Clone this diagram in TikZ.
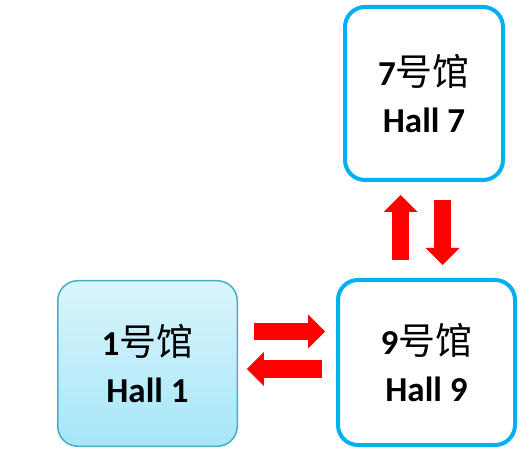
\documentclass[tikz,border=0pt]{standalone}
\usepackage{fontspec}
\setmainfont{Carlito}
\newfontfamily\cjk{Noto Sans CJK SC}
\usetikzlibrary{arrows.meta}
\definecolor{hallblue}{HTML}{00B0F0}
\definecolor{hallteal}{HTML}{4BACC6}
\definecolor{gradtop}{HTML}{DAF5FC}
\definecolor{gradbot}{HTML}{A6E6F8}
\definecolor{arrred}{HTML}{FF0000}
\newcommand{\hz}[1]{{\cjk\mdseries\fontsize{37}{47}\selectfont #1}}
\begin{document}
\begin{tikzpicture}[x=1pt,y=1pt,
  hallbox/.style={rounded corners=20pt,align=center,inner sep=0pt,
    font=\fontsize{35}{47}\selectfont\bfseries},
  bluebox/.style={hallbox,draw=hallblue,line width=4pt},
  gradbox/.style={hallbox,draw=hallteal,line width=1.5pt,top color=gradtop,bottom color=gradbot},
  blockarrow/.style={draw=arrred,line width=17pt,
    -{Triangle[width=34pt,length=17pt,line width=0pt]}}]
\useasboundingbox (0,0) rectangle (530,450);
\node[gradbox,minimum width=179.5pt,minimum height=165.5pt] (h1) at (147.5,86.5)
  {1\hz{号馆}\\Hall 1};
\node[bluebox,minimum width=177pt,minimum height=165pt] (h9) at (426.5,87.5)
  {9\hz{号馆}\\Hall 9};
\node[bluebox,minimum width=158pt,minimum height=173pt] (h7) at (424,356.5)
  {7\hz{号馆}\\Hall 7};
\draw[blockarrow] ([xshift=15.75pt,yshift=32pt]h1.east) -- ([xshift=-11pt,yshift=31pt]h9.west);
\draw[blockarrow] ([xshift=-14pt,yshift=-6.5pt]h9.west) -- ([xshift=8.75pt,yshift=-5.5pt]h1.east);
\draw[blockarrow] ([xshift=-26pt,yshift=18pt]h9.north) -- ([xshift=-23.5pt,yshift=-13pt]h7.south);
\draw[blockarrow] ([xshift=18.5pt,yshift=-18pt]h7.south) -- ([xshift=16pt,yshift=13pt]h9.north);
\end{tikzpicture}
\end{document}
